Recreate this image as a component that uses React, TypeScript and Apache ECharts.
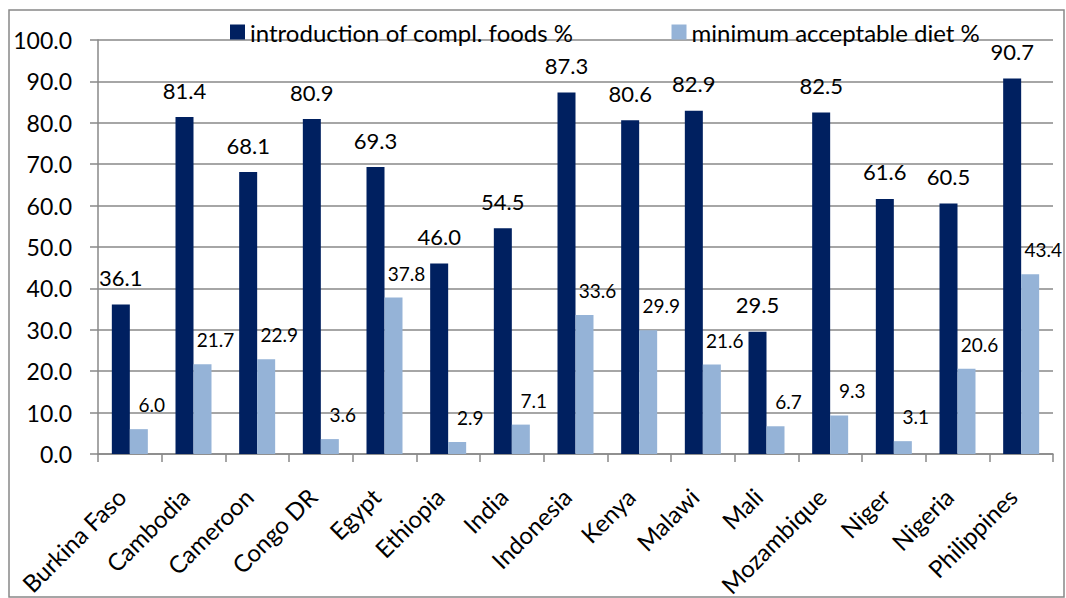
import React, { useEffect, useRef } from "react";
import * as echarts from "echarts";

const categories = ["Burkina Faso", "Cambodia", "Cameroon", "Congo DR", "Egypt", "Ethiopia", "India", "Indonesia", "Kenya", "Malawi", "Mali", "Mozambique", "Niger", "Nigeria", "Philippines"];
const introFoods = [36.1, 81.4, 68.1, 80.9, 69.3, 46.0, 54.5, 87.3, 80.6, 82.9, 29.5, 82.5, 61.6, 60.5, 90.7];
const minDiet = [6.0, 21.7, 22.9, 3.6, 37.8, 2.9, 7.1, 33.6, 29.9, 21.6, 6.7, 9.3, 3.1, 20.6, 43.4];
const seriesNames = ["introduction of compl. foods %", "minimum acceptable diet %"];

const FONT = "Lato, 'Open Sans', sans-serif";

export default function App() {
  const ref = useRef<HTMLDivElement>(null);
  useEffect(() => {
    const chart = echarts.init(ref.current!, null, { renderer: "svg" });
    chart.setOption({
      animation: false,
      backgroundColor: "#fff",
      textStyle: { fontFamily: FONT },
      legend: {
        top: 15,
        left: 225,
        itemWidth: 15,
        itemHeight: 15,
        itemGap: 98,
        icon: "rect",
        textStyle: { fontSize: 24, color: "#000", fontFamily: FONT },
        data: seriesNames,
      },
      grid: { left: 98, right: 13, top: 40, bottom: 144, containLabel: false, outerBoundsMode: "none" },
      xAxis: {
        type: "category",
        data: categories,
        axisLine: { lineStyle: { color: "#888", width: 1.5 } },
        axisTick: { show: true, length: 8, lineStyle: { color: "#888", width: 1.5 } },
        axisLabel: { rotate: 45, fontSize: 24, color: "#000", margin: 30, padding: [0, 12, 0, 0], fontFamily: FONT, interval: 0 },
      },
      yAxis: {
        type: "value",
        min: 0,
        max: 100,
        interval: 10,
        axisLine: { show: true, lineStyle: { color: "#888", width: 1.5 } },
        axisTick: { show: true, length: 8, lineStyle: { color: "#888", width: 1.5 } },
        splitLine: { lineStyle: { color: "#888", width: 1.5 } },
        axisLabel: { fontSize: 23, color: "#000", margin: 26, fontFamily: FONT, formatter: (v: number) => v.toFixed(1) },
      },
      series: [
        {
          name: seriesNames[0],
          type: "bar",
          data: introFoods,
          barWidth: 18,
          barGap: "0%",
          itemStyle: { color: "#002060" },
          label: { show: true, position: "top", distance: 16, fontSize: 22, color: "#000", fontFamily: FONT, formatter: (p: any) => p.value.toFixed(1) },
        },
        {
          name: seriesNames[1],
          type: "bar",
          data: minDiet,
          barWidth: 18,
          barGap: "0%",
          itemStyle: { color: "#95B3D7" },
          label: { show: true, position: "top", distance: 15, fontSize: 19, color: "#000", fontFamily: FONT, offset: [13, 0], formatter: (p: any) => p.value.toFixed(1) },
        },
      ],
      graphic: [
        {
          type: "rect",
          shape: { x: 9, y: 10, width: 1055, height: 587 },
          style: { fill: "none", stroke: "#888", lineWidth: 1.5 },
          silent: true,
        },
      ],
    });
    return () => chart.dispose();
  }, []);
  return <div ref={ref} style={{ position: "absolute", left: 0, top: 0, width: 1066, height: 598 }} />;
}
